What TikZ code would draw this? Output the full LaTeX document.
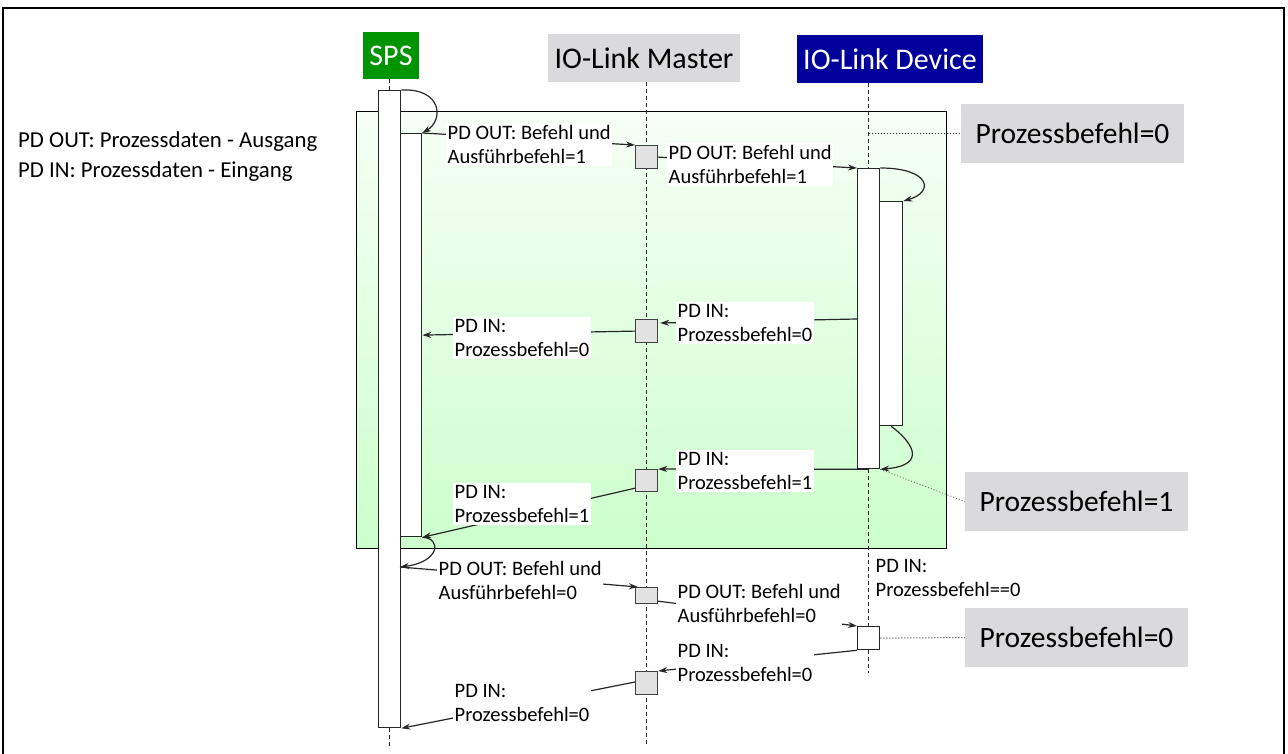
\documentclass[tikz,border=0pt]{standalone}
\usepackage{fontspec}
\setmainfont{Carlito}
\usetikzlibrary{arrows.meta,calc,backgrounds}
\definecolor{spsgreen}{RGB}{0,148,0}
\definecolor{devblue}{RGB}{0,0,155}
\definecolor{hdrgray}{RGB}{218,218,220}
\definecolor{boxgray}{RGB}{226,226,226}
\definecolor{frtop}{RGB}{246,255,246}
\definecolor{frbot}{RGB}{204,255,204}
\begin{document}
\begin{tikzpicture}[x=1pt,y=-1pt,
  bar/.style={draw=black!85, line width=1.3pt, fill=white, inner sep=0pt, anchor=north west, minimum width=22pt},
  mbox/.style={draw=black!75, line width=1.2pt, fill=boxgray, inner sep=0pt, anchor=north west, minimum width=22pt},
  life/.style={draw=black!85, line width=1pt, dash pattern=on 4pt off 3pt},
  msg/.style={draw=black!85, line width=1.2pt, -{Stealth[length=9pt,width=6pt]}},
  lbl/.style={fill=white, inner xsep=1.5pt, inner ysep=2pt, anchor=north west, align=left, font=\fontsize{20.5}{24}\selectfont},
  hdr/.style={inner sep=0pt, font=\fontsize{30}{36}\selectfont},
  pbox/.style={fill=hdrgray, minimum width=223pt, minimum height=59pt, inner sep=0pt, font=\fontsize{29.5}{35}\selectfont},
  note/.style={draw=black!80, line width=1pt, dotted}
]
\useasboundingbox (0,0) rectangle (1288,754);
% outer border
\draw[line width=1.6pt] (3,770) -- (3,8) -- (1284,8) -- (1284,770);

% headers
\node[hdr, fill=spsgreen, text=white, minimum width=56pt, minimum height=47pt] (spshdr) at (391,55.5) {SPS};
\node[hdr, fill=hdrgray, minimum width=192pt, minimum height=48pt] (mhdr) at (644,58) {IO-Link Master};
\node[hdr, fill=devblue, text=white, minimum width=186pt, minimum height=48pt] (devhdr) at (890,59) {IO-Link Device};

% activation bars
\node[bar, minimum height=637pt] (spsA) at (378,90) {};
\node[bar, minimum width=21pt, minimum height=403pt] (spsB) at (400,133) {};
\node[bar, minimum height=300pt] (devA) at (857,168) {};
\node[bar, minimum width=23pt, minimum height=224pt] (devB) at (879,201) {};
\node[bar, minimum height=23pt] (devS) at (857,626) {};
% master boxes
\node[mbox, minimum height=23pt] (m1) at (635,145) {};
\node[mbox, minimum height=23pt] (m2) at (635,319) {};
\node[mbox, minimum height=22pt] (m3) at (635,469) {};
\node[mbox, minimum height=16pt] (m4) at (635,587) {};
\node[mbox, minimum height=23pt] (m5) at (635,671) {};

% background: group frame and lifelines
\begin{scope}[on background layer]
\node[draw, line width=1.3pt, top color=frtop, bottom color=frbot, minimum width=590pt, minimum height=437pt, inner sep=0pt, anchor=north west] (grp) at (356,111) {};
\draw[life] (spsA.north |- spshdr.south) -- (spsA.north);
\draw[life] (spsA.south) -- ++(0,18);
\draw[life] (m1.north |- mhdr.south) -- ++(0,663);
\draw[life] (devA.north |- devhdr.south) -- (devA.north);
\draw[life] (devA.south) -- (devS.north);
\draw[life] (devS.south) -- ++(0,23);
\end{scope}

% big state boxes
\node[pbox] (pb0a) at (1072.5,133.5) {Prozessbefehl=0};
\node[pbox] (pb1) at (1076.5,501.5) {Prozessbefehl=1};
\node[pbox] (pb0b) at (1076.5,637.5) {Prozessbefehl=0};
\draw[note] (devA.north |- pb0a.west) -- (pb0a.west);
\draw[note, draw=black!55] (devA.south east) -- (pb1.west);
\draw[note] (devS.east) -- (pb0b.west);

% self loops
\draw[msg] (spsA.north east) .. controls (442,88) and (444,120) .. (spsB.north east);
\draw[msg] (devA.north east) .. controls (930,168) and (935,192) .. (devB.north east);
\draw[msg] (devB.south) .. controls (910,440) and (930,465) .. (devA.south east);
\coordinate (s5) at (400,567);
\draw[msg] (spsB.south east) .. controls (442,538) and (440,562) .. (s5);

% messages
\draw[msg] (spsB.north east) -- (m1.north west);
\draw[msg] (m1.east) -- (devA.north west);
\draw[msg] (devA.west |- m2.north) -- ($(m2.north east)+(2,4)$);
\draw[msg] (m2.west) -- ($(spsB.east |- m2.west)+(0,4)$);
\draw[msg] (devA.south) -- (m3.north east);
\draw[msg] ($(m3.south west)+(0,-4)$) -- (spsB.south east);
\draw[msg] (s5) -- ($(m4.north west)+(3,0)$);
\draw[msg] ($(m4.south east)+(0,-3)$) -- (devS.north west);
\draw[msg] (devS.south west) -- (m5.north east);
\draw[msg] ($(m5.north west)+(0,11)$) -- (spsA.south east);

% message labels
\node[lbl] (l1) at (446,123) {PD OUT: Befehl und\\Ausführbefehl=1};
\node[lbl] (l2) at (667,143) {PD OUT: Befehl und\\Ausführbefehl=1};
\node[lbl] (l3) at (676,302) {PD IN:\\Prozessbefehl=0};
\node[lbl] (l4) at (453,317) {PD IN:\\Prozessbefehl=0};
\node[lbl] (l5) at (676,450) {PD IN:\\Prozessbefehl=1};
\node[lbl] (l6) at (453,483) {PD IN:\\Prozessbefehl=1};
\node[lbl] (l7) at (437,559) {PD OUT: Befehl und\\Ausführbefehl=0};
\node[lbl] (l8) at (676,582) {PD OUT: Befehl und\\Ausführbefehl=0};
\node[lbl, fill=none] (l9) at (874,557) {PD IN:\\Prozessbefehl==0};
\node[lbl] (l10) at (676,642) {PD IN:\\Prozessbefehl=0};
\node[lbl] (l11) at (453,682) {PD IN:\\Prozessbefehl=0};

% legend
\node[anchor=north west, align=left, inner sep=0pt, font=\fontsize{22.8}{30.5}\selectfont] (legend) at (18,131) {PD OUT: Prozessdaten - Ausgang\\PD IN: Prozessdaten - Eingang};
\end{tikzpicture}
\end{document}
